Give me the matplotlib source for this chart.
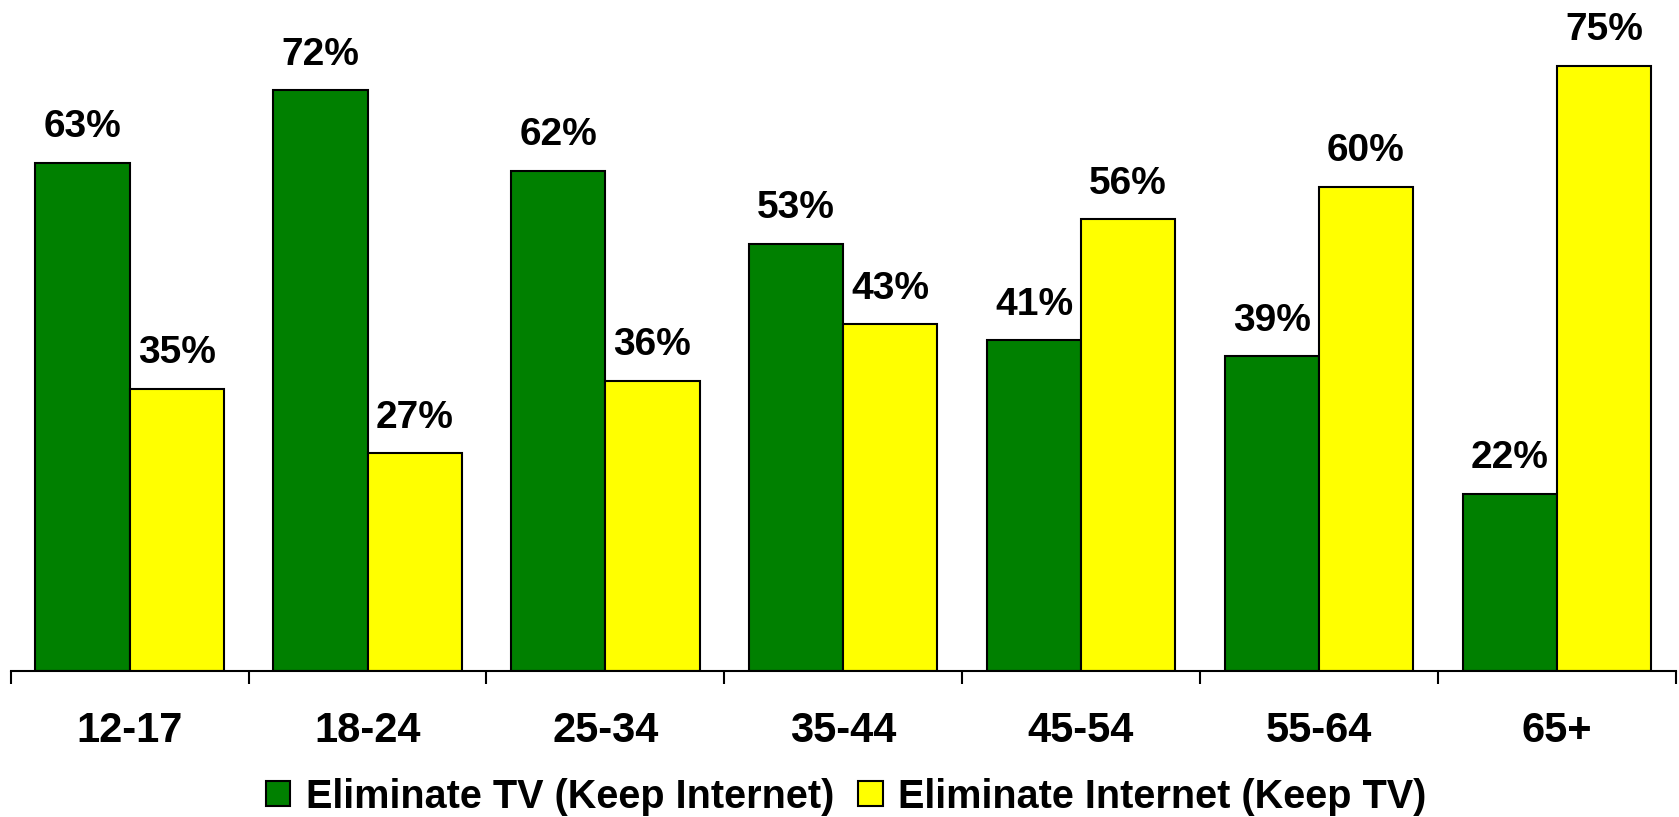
import matplotlib
matplotlib.use("Agg")
import matplotlib.pyplot as plt
import numpy as np

# === Data ===
AGE_GROUPS = ["12-17", "18-24", "25-34", "35-44", "45-54", "55-64", "65+"]
ELIM_TV = [63, 72, 62, 53, 41, 39, 22]
ELIM_NET = [35, 27, 36, 43, 56, 60, 75]
SERIES_NAMES = ["Eliminate TV (Keep Internet)", "Eliminate Internet (Keep TV)"]

GREEN = "#008000"
YELLOW = "#FFFF00"
BAR_W = 0.396

plt.rcParams['font.family'] = ['Liberation Sans', 'DejaVu Sans']
plt.rcParams['font.weight'] = 'bold'

fig = plt.figure(figsize=(16.79, 8.17), dpi=100)
ax = fig.add_axes([0.0064, 0.1787, 0.9916, 0.8213])

x = np.arange(len(AGE_GROUPS))
b1 = ax.bar(x - BAR_W / 2, ELIM_TV, BAR_W, color=GREEN, edgecolor='black', linewidth=1.5,
            label=SERIES_NAMES[0])
b2 = ax.bar(x + BAR_W / 2, ELIM_NET, BAR_W, color=YELLOW, edgecolor='black', linewidth=1.5,
            label=SERIES_NAMES[1])

# value labels above every bar
for bars, vals in ((b1, ELIM_TV), (b2, ELIM_NET)):
    for rect, v in zip(bars, vals):
        ax.annotate(f"{v}%", (rect.get_x() + rect.get_width() / 2, rect.get_height()),
                    xytext=(0, 18.5), textcoords='offset points', ha='center', va='baseline',
                    fontsize=28, fontweight='bold')

ax.set_xlim(-0.5, len(AGE_GROUPS) - 0.5)
ax.set_ylim(0, 83.2)
ax.set_yticks([])
for s in ('left', 'right', 'top'):
    ax.spines[s].set_visible(False)
ax.spines['bottom'].set_linewidth(1.5)

# ticks at group boundaries, labels at group centres
ax.set_xticks(np.arange(len(AGE_GROUPS) + 1) - 0.5)
ax.set_xticklabels([])
ax.tick_params(axis='x', which='major', direction='out', length=9, width=1.5)
ax.set_xticks(x, minor=True)
ax.set_xticklabels(AGE_GROUPS, minor=True, fontsize=30, fontweight='bold')
ax.tick_params(axis='x', which='minor', length=0, pad=29)

fig.legend(handles=[b1, b2], loc='center', bbox_to_anchor=(0.504, 0.025), ncol=2,
           frameon=False, prop={'weight': 'bold', 'size': 28.5},
           handlelength=0.62, handleheight=0.62, handletextpad=0.4, columnspacing=0.6,
           borderpad=0, borderaxespad=0)

fig.savefig("out.png", dpi=100)
